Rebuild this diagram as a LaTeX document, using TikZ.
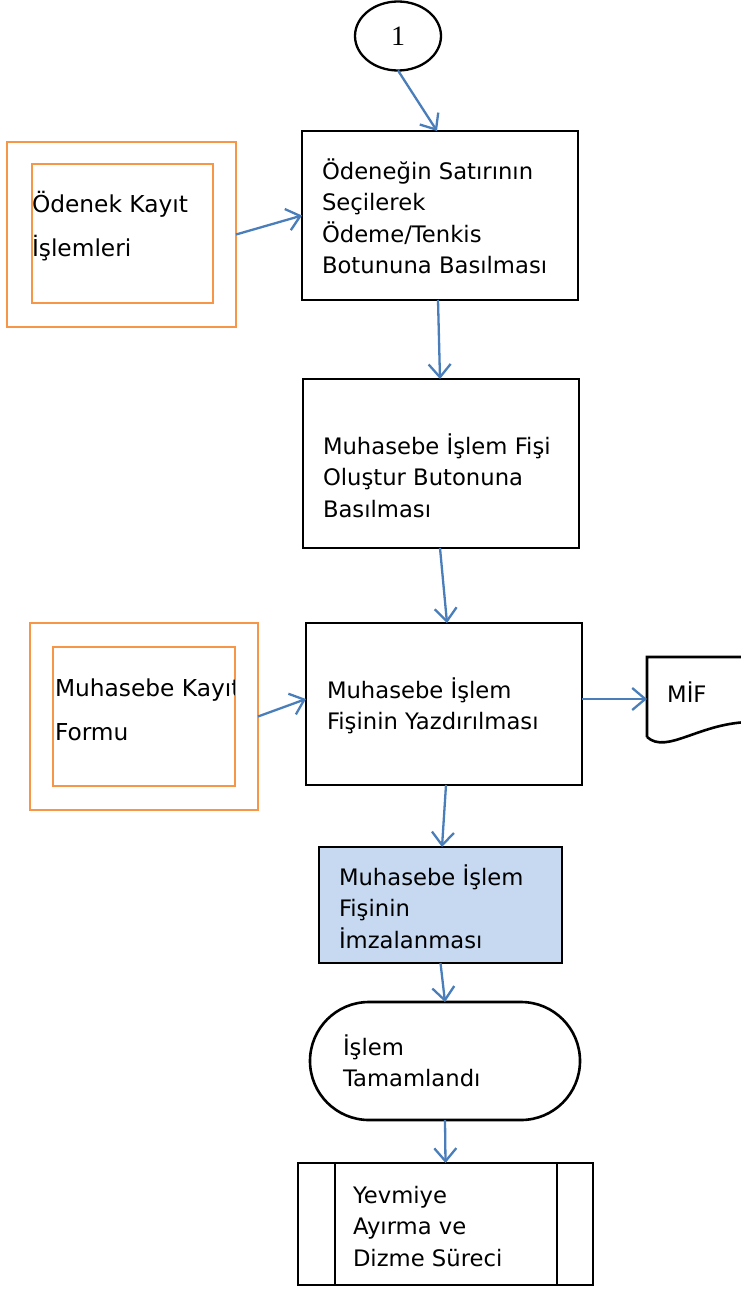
\documentclass[tikz,border=0pt]{standalone}
\usepackage{fontspec}
\setmainfont{DejaVu Sans}
\newfontfamily\numfont{Liberation Serif}
\usetikzlibrary{arrows.meta,shapes.geometric}
\definecolor{arrowblue}{HTML}{4A7EBB}
\definecolor{boxorange}{HTML}{F79646}
\definecolor{lightblue}{HTML}{C6D9F1}
\tikzset{
  boxnode/.style={draw=black, line width=2.6pt, rectangle, inner sep=0pt, outer sep=0pt},
  orangebox/.style={draw=boxorange, line width=2.2pt, rectangle, inner sep=0pt, outer sep=0pt},
  txt/.style={font=\fontsize{22.7}{31.5}\selectfont, align=left, inner sep=0pt, outer sep=0pt, anchor=north west},
  otxt/.style={font=\fontsize{23.3}{44}\selectfont, align=left, inner sep=0pt, outer sep=0pt, anchor=north west},
  flow/.style={draw=arrowblue, line width=2.3pt, -{Straight Barb[length=13pt,width=22pt]}}
}
\begin{document}
\begin{tikzpicture}[x=1pt,y=-1pt]
\useasboundingbox (0,0) rectangle (740,1290);

% start connector circle
\node[draw, ellipse, line width=2.3pt, minimum width=86pt, minimum height=69pt, inner sep=0pt, outer sep=0pt,
      font=\numfont\fontsize{28}{32}\selectfont] (c1) at (398,36) {1};

% main boxes
\node[boxnode, minimum width=276pt, minimum height=169pt] (b1) at (440,215.5) {};
\node[txt] (t1) at (322,157) {\strut Ödeneğin Satırının\\\strut Seçilerek\\\strut Ödeme/Tenkis\\\strut Botununa Basılması};

\node[boxnode, minimum width=276pt, minimum height=169pt] (b2) at (441,463.5) {};
\node[txt] (t2) at (323,432) {\strut Muhasebe İşlem Fişi\\\strut Oluştur Butonuna\\\strut Basılması};

\node[boxnode, minimum width=276pt, minimum height=162pt] (b3) at (444,704) {};
\node[txt] (t3) at (327,676) {\strut Muhasebe İşlem\\\strut Fişinin Yazdırılması};

\node[boxnode, fill=lightblue, minimum width=243pt, minimum height=116pt] (b4) at (440.5,905) {};
\node[txt] (t4) at (339,863) {\strut Muhasebe İşlem\\\strut Fişinin\\\strut İmzalanması};

\node[boxnode, rounded corners=59pt, minimum width=270pt, minimum height=118pt] (term) at (445,1061) {};
\node[txt] (t5) at (343,1033) {\strut İşlem\\\strut Tamamlandı};

\node[boxnode, minimum width=295pt, minimum height=122pt] (pp) at (445.5,1224) {};
\draw[line width=2.6pt] ([xshift=37pt]pp.north west) -- ([xshift=37pt]pp.south west);
\draw[line width=2.6pt] ([xshift=-36pt]pp.north east) -- ([xshift=-36pt]pp.south east);
\node[txt] (t6) at (353,1181) {\strut Yevmiye\\\strut Ayırma ve\\\strut Dizme Süreci};

% orange boxes
\node[orangebox, minimum width=229pt, minimum height=185pt] (o1) at (121.5,234.5) {};
\node[orangebox, minimum width=181pt, minimum height=139pt] (o1i) at (122.5,233.5) {};
\node[otxt] (ot1) at (32,181.5) {\strut Ödenek Kayıt\\\strut İşlemleri};

\node[orangebox, minimum width=228pt, minimum height=187pt] (o2) at (144,716.5) {};
\node[orangebox, minimum width=182pt, minimum height=139pt] (o2i) at (144,716.5) {};
\begin{scope}
\clip (53,647) rectangle (234,786);
\node[otxt] (ot2) at (55,665.5) {\strut Muhasebe Kayıt\\\strut Formu};
\end{scope}

% document MIF
\draw[line width=2.6pt] (647,737) -- (647,657) -- (752,657) -- (752,722)
  .. controls (700,722) and (667,755) .. (647,737);
\node[font=\fontsize{22.7}{31.5}\selectfont, anchor=base west, inner sep=0pt] (mif) at (667,702) {MİF};
\coordinate (mifL) at (647,699);

% connectors
\draw[flow] (c1.south) -- ([xshift=-3pt]b1.north);
\draw[flow] (o1.east) -- (b1.west);
\draw[flow] ([xshift=-2pt]b1.south) -- ([xshift=-1pt]b2.north);
\draw[flow] ([xshift=-1pt]b2.south) -- ([xshift=3pt]b3.north);
\draw[flow] (o2.east) -- ([yshift=5pt]b3.west);
\draw[flow] ([yshift=5pt]b3.east) -- (mifL);
\draw[flow] ([xshift=2pt]b3.south) -- ([xshift=1.5pt]b4.north);
\draw[flow] (b4.south) -- (term.north);
\draw[flow] (term.south) -- (pp.north);
\end{tikzpicture}
\end{document}
